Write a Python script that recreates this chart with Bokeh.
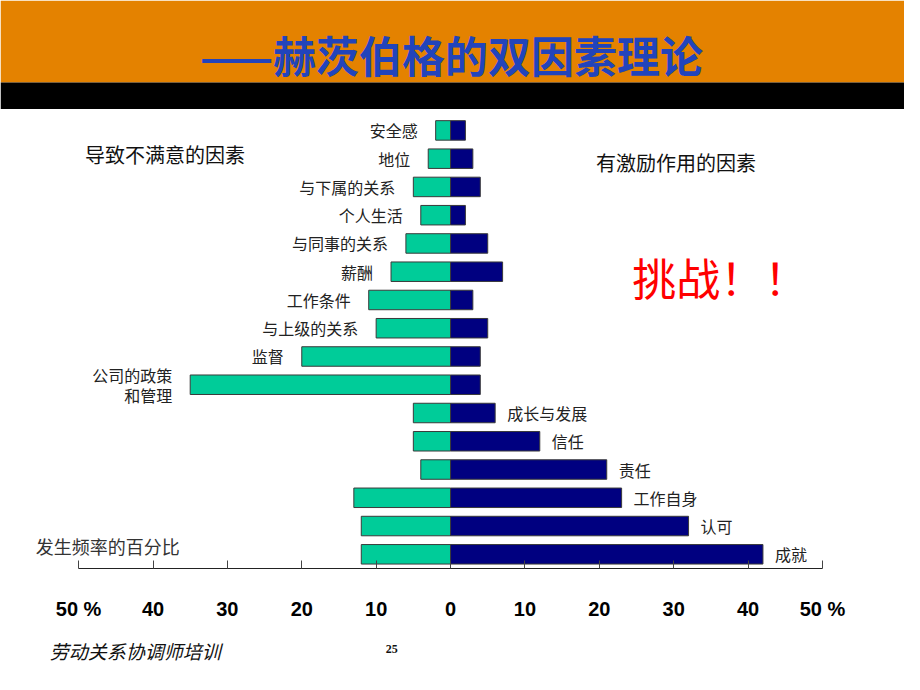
from bokeh.plotting import figure
from bokeh.models import Range1d, FixedTicker, Label, BoxAnnotation, ColumnDataSource
from bokeh.core.properties import value
from bokeh.embed import file_html
from bokeh.resources import INLINE

# ---------------- data ----------------
factors = ["安全感", "地位", "与下属的关系", "个人生活", "与同事的关系", "薪酬",
           "工作条件", "与上级的关系", "监督", "公司的政策\n和管理",
           "成长与发展", "信任", "责任", "工作自身", "认可", "成就"]
dissatisfied_pct = [2, 3, 5, 4, 6, 8, 11, 10, 20, 35, 5, 5, 4, 13, 12, 12]
motivating_pct = [2, 3, 4, 2, 5, 7, 3, 5, 4, 4, 6, 12, 21, 23, 32, 42]
factor_group = ["保健"] * 10 + ["激励"] * 6
tick_values = [-50, -40, -30, -20, -10, 0, 10, 20, 30, 40, 50]
tick_labels = ["50 %", "40", "30", "20", "10", "0", "10", "20", "30", "40", "50 %"]

# ---------------- layout helpers ----------------
W, H = 904, 674
SX, SY = W / 920, H / 690          # reference slide -> figure scale
PXX = 7.57 * SX                    # px per percent unit
ZERO_PX = 458 * SX                 # zero line, figure px
X_START = -ZERO_PX / PXX
X_END = (W - ZERO_PX) / PXX
ROW_PX = 28.93 * SY
FIRST_ROW_PX = 133 * SY
Y_TOP = -FIRST_ROW_PX / ROW_PX
Y_BOTTOM = Y_TOP + H / ROW_PX


def xp(ref_x):
    return X_START + ref_x * SX / PXX


def yp(ref_y):
    return Y_TOP + ref_y * SY / ROW_PX


CJK = "Noto Sans CJK SC"

p = figure(width=W, height=H,
           x_range=Range1d(X_START, X_END), y_range=Range1d(Y_BOTTOM, Y_TOP),
           output_backend="svg", toolbar_location=None, y_axis_location=None,
           min_border_left=0, min_border_right=0, min_border_top=0,
           min_border_bottom=0, outline_line_color=None,
           background_fill_color="white", border_fill_color="white")
p.grid.visible = False

# header bands
p.add_layout(BoxAnnotation(left=X_START, right=X_END, top=Y_TOP, bottom=yp(84),
                           fill_color="#E48200", fill_alpha=1, line_alpha=0, level="underlay"))
p.add_layout(BoxAnnotation(left=X_START, right=X_END, top=yp(84), bottom=yp(111),
                           fill_color="#000000", fill_alpha=1, line_alpha=0, level="underlay"))

rows = list(range(len(factors)))
src = ColumnDataSource(dict(row=rows, factor=factors,
                            neg=[-v for v in dissatisfied_pct], pos=motivating_pct))
p.hbar(y="row", left="neg", right=0, height=0.69, fill_color="#00CC99",
       line_color="#3a3a3a", line_width=1, source=src)
p.hbar(y="row", left=0, right="pos", height=0.69, fill_color="#000080",
       line_color="#3a3a3a", line_width=1, source=src)

left_src = ColumnDataSource(dict(
    x=[-d for d, g in zip(dissatisfied_pct, factor_group) if g == "保健"],
    row=[r for r, g in zip(rows, factor_group) if g == "保健"],
    factor=[f for f, g in zip(factors, factor_group) if g == "保健"]))
right_src = ColumnDataSource(dict(
    x=[s for s, g in zip(motivating_pct, factor_group) if g == "激励"],
    row=[r for r, g in zip(rows, factor_group) if g == "激励"],
    factor=[f for f, g in zip(factors, factor_group) if g == "激励"]))

p.text(x="x", y="row", text="factor", source=left_src, text_align="right",
       text_baseline="middle", x_offset=-18, text_font=value(CJK), text_font_size="16px",
       text_color="#222222", text_line_height=0.85)
p.text(x="x", y="row", text="factor", source=right_src, text_align="left",
       text_baseline="middle", x_offset=12, text_font=value(CJK), text_font_size="16px",
       text_color="#222222")

# axis drawn inside the frame at the slide's baseline
ax = p.xaxis[0]
ax.fixed_location = yp(581)
ax.ticker = FixedTicker(ticks=tick_values)
ax.major_label_overrides = {v: l for v, l in zip(tick_values, tick_labels)}
ax.bounds = (-50, 50)
ax.axis_line_color = "#222222"
ax.major_tick_line_color = "#444444"
ax.major_tick_in = 8
ax.major_tick_out = 0
ax.minor_tick_line_color = None
ax.major_label_standoff = 30
ax.major_label_text_font = "Liberation Sans"
ax.major_label_text_font_style = "bold"
ax.major_label_text_font_size = "20px"
ax.major_label_text_color = "#000000"

# texts
p.add_layout(Label(x=xp(459), y=yp(55), text="——赫茨伯格的双因素理论", text_align="center",
                   text_baseline="middle", text_font=CJK, text_font_style="bold",
                   text_font_size="43px", text_color="#2244BB"))
p.add_layout(Label(x=xp(86), y=yp(158), text="导致不满意的因素", text_align="left",
                   text_baseline="middle", text_font=CJK,
                   text_font_size="20px", text_color="#111111"))
p.add_layout(Label(x=xp(606), y=yp(166), text="有激励作用的因素", text_align="left",
                   text_baseline="middle", text_font=CJK,
                   text_font_size="20px", text_color="#111111"))
p.add_layout(Label(x=xp(643), y=yp(283), text="挑战！！", text_align="left",
                   text_baseline="middle", text_font=CJK,
                   text_font_size="44px", text_color="#FF0000"))
p.add_layout(Label(x=xp(36), y=yp(558), text="发生频率的百分比", text_align="left",
                   text_baseline="middle", text_font=CJK,
                   text_font_size="18px", text_color="#333333"))
p.add_layout(Label(x=xp(50), y=yp(665), text="劳动关系协调师培训", text_align="left",
                   text_baseline="middle", text_font=CJK,
                   text_font_style="italic", text_font_size="19px", text_color="#111111"))
p.add_layout(Label(x=xp(392), y=yp(664), text="25", text_align="left",
                   text_baseline="middle", text_font="Liberation Serif",
                   text_font_style="bold", text_font_size="12px", text_color="#111111"))

open("out.html", "w").write(file_html(p, INLINE))
